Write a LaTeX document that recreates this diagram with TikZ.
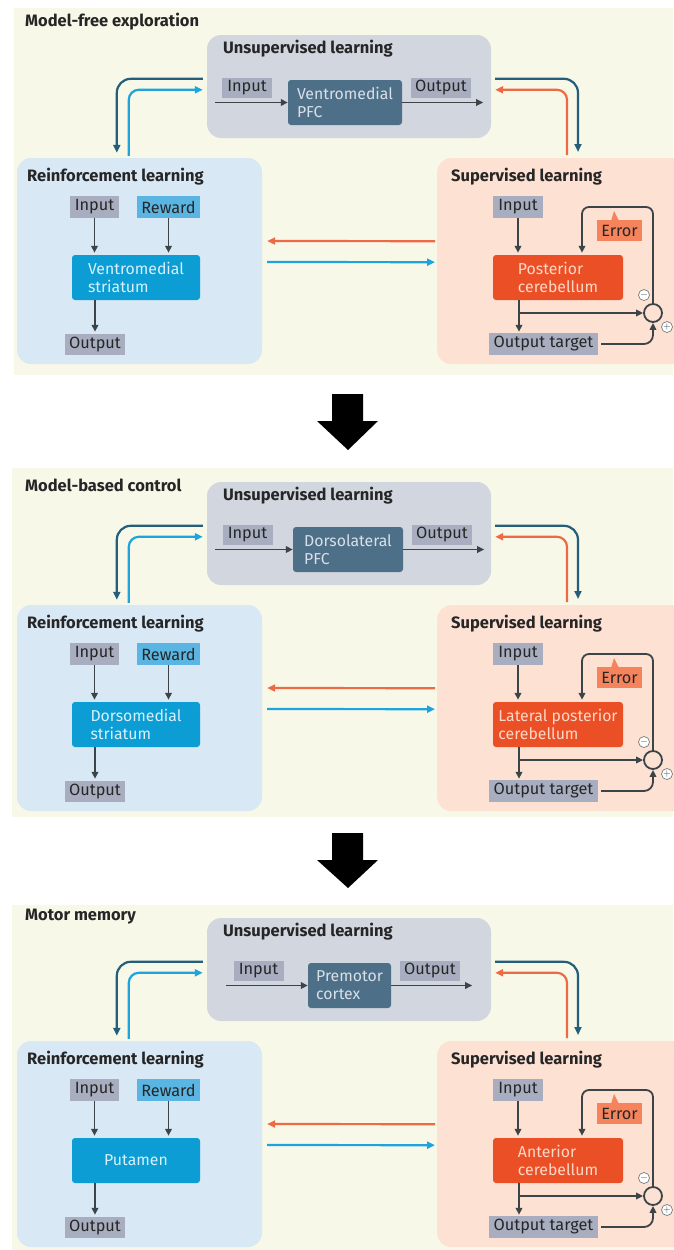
\documentclass[tikz,border=0pt]{standalone}
\usepackage{fontspec}
\setmainfont{Fira Sans}
\usetikzlibrary{arrows.meta,calc}

\definecolor{panelbg}{HTML}{F7F8E8}
\definecolor{unsupbg}{HTML}{D1D6DF}
\definecolor{reinfbg}{HTML}{D9E8F5}
\definecolor{superbg}{HTML}{FDE1D3}
\definecolor{graylbl}{HTML}{A8AEBF}
\definecolor{rewardlbl}{HTML}{5BB5E2}
\definecolor{pfcfill}{HTML}{4E6F88}
\definecolor{strfill}{HTML}{0B9DD4}
\definecolor{cbfill}{HTML}{EB4F26}
\definecolor{errfill}{HTML}{F5845C}
\definecolor{darkteal}{HTML}{245E7B}
\definecolor{lightblue}{HTML}{1DA4DC}
\definecolor{orangeln}{HTML}{EE6A45}
\definecolor{arrowgray}{HTML}{3D4447}
\definecolor{titletext}{HTML}{262626}
\definecolor{pfctext}{HTML}{D8E0E8}
\definecolor{strtext}{HTML}{D8F0FA}
\definecolor{cbtext}{HTML}{FDD8C6}

\tikzset{
  areabox/.style={rounded corners=14pt, draw=none, inner sep=0pt},
  areatitle/.style={inner sep=0pt, anchor=west, text=titletext,
    font=\bfseries\fontsize{16.5}{19}\selectfont},
  tagbox/.style={fill=graylbl, inner sep=0pt, text=titletext,
    font=\fontsize{16.3}{18}\selectfont},
  corebox/.style={inner sep=0pt, align=left, rounded corners=3pt,
    font=\fontsize{15.8}{18}\selectfont},
  flowarrow/.style={draw=arrowgray, line width=1.8pt,
    -{Triangle[length=7pt,width=6.5pt]}},
  plainline/.style={draw=arrowgray, line width=1.8pt},
  feedback/.style={line width=2.2pt, rounded corners=14pt,
    -{Triangle[length=8pt,width=7pt]}},
  midarrow/.style={line width=2.2pt, -{Triangle[length=8pt,width=7pt]}},
  sumnode/.style={circle, draw=arrowgray, line width=1.8pt, fill=superbg,
    minimum size=18pt, inner sep=0pt},
  signnode/.style={circle, draw=arrowgray!70, line width=0.7pt, fill=white,
    minimum size=11pt, inner sep=0pt, text=arrowgray,
    font=\bfseries\fontsize{10}{10}\selectfont},
}

% One learning panel: unsupervised, reinforcement and supervised blocks.
% #1 name prefix, #2 vertical offset, #3 cortex text, #4 striatum text,
% #5 cerebellum text, #6 input tag centre x, #7 cortex centre x,
% #8 cortex width, #9 output tag centre x
\newcommand{\learnpanel}[9]{%
\begin{scope}[shift={(0,#2)}]
  % unsupervised learning
  \node[areabox, fill=unsupbg, minimum width=284pt, minimum height=103pt] (#1U) at (349,86.5) {};
  \node[areatitle] (#1Ut) at (223,49) {Unsupervised learning};
  \node[tagbox, minimum width=50pt, minimum height=20pt] (#1Ui) at (#6,88) {Input};
  \node[corebox, fill=pfcfill, text=pfctext, minimum width=#8pt, minimum height=45pt] (#1Uc) at (#7,102.5) {#3};
  \node[tagbox, minimum width=60pt, minimum height=20pt] (#1Uo) at (#9,88) {Output};
  \coordinate (#1Us) at ($(#1Ui.west |- #1Uc.west)+(-7,0)$);
  \coordinate (#1Ue) at ($(#1Uo.east |- #1Uc.east)+(12,0)$);
  \draw[flowarrow] (#1Us) -- (#1Uc.west);
  \draw[flowarrow] (#1Uc.east) -- (#1Ue);

  % reinforcement learning
  \node[areabox, fill=reinfbg, minimum width=245pt, minimum height=206pt] (#1R) at (139.5,261) {};
  \node[areatitle] (#1Rt) at (27,177) {Reinforcement learning};
  \node[tagbox, minimum width=49pt, minimum height=22pt] (#1Ri) at (94.5,207) {Input};
  \node[tagbox, fill=rewardlbl, minimum width=63pt, minimum height=22pt] (#1Rw) at (168.5,207) {Reward};
  \node[corebox, fill=strfill, text=strtext, minimum width=128pt, minimum height=45pt] (#1Rs) at (136,277.5) {#4};
  \node[tagbox, minimum width=60pt, minimum height=21pt] (#1Ro) at (95,344.5) {Output};
  \draw[flowarrow, shorten >=2pt] (#1Ri.south) -- (#1Ri.south |- #1Rs.north);
  \draw[flowarrow, shorten >=2pt] (#1Rw.south) -- (#1Rw.south |- #1Rs.north);
  \draw[flowarrow, shorten >=2pt] (#1Rs.south -| #1Ro.north) -- (#1Ro.north);

  % supervised learning
  \node[areabox, fill=superbg, minimum width=260pt, minimum height=206pt, anchor=north west] (#1S) at (437,158) {};
  \node[areatitle] (#1St) at (451,177) {Supervised learning};
  \node[tagbox, minimum width=50pt, minimum height=22pt] (#1Si) at (518,207) {Input};
  \node[corebox, fill=cbfill, text=cbtext, minimum width=130pt, minimum height=45pt] (#1Sc) at (558,277.5) {#5};
  \fill[errfill] (611,221) -- (619,221) -- (614,211) -- cycle;
  \node[tagbox, fill=errfill, minimum width=45pt, minimum height=21pt] (#1Se) at (619.5,230.5) {Error};
  \node[sumnode] (#1Ss) at (653,313) {};
  \node[signnode] (#1Sm) at (644,295) {$-$};
  \node[signnode] (#1Sp) at (667,327) {$+$};
  \node[tagbox, minimum width=109pt, minimum height=22pt] (#1So) at (543.5,344) {Output target};
  \coordinate (#1Sj) at (519,313);
  \coordinate (#1Sk) at (582,207);
  \draw[flowarrow, shorten >=2pt] (#1Si.south) -- (#1Si.south |- #1Sc.north);
  \draw[plainline] (#1Sc.south -| #1Sj) -- (#1Sj);
  \draw[flowarrow, shorten >=1pt] (#1Sj) -- (#1So.north -| #1Sj);
  \draw[flowarrow] (#1Sj) -- (#1Ss.west);
  \draw[flowarrow, rounded corners=7pt, shorten >=2pt] (#1Ss.north) |- (#1Sk) -- (#1Sk |- #1Sc.north);
  \draw[flowarrow, rounded corners=9pt, shorten <=3pt] (#1So.east) -| (#1Ss.south);

  % exchanges between the three learning systems
  \draw[feedback, darkteal] ($(#1U.north west)+(-4,44)$) -| ($(#1R.north west)+(100,-5)$);
  \draw[feedback, lightblue, rounded corners=10pt] ($(#1R.north west)+(112,-2)$) |- ($(#1U.north west)+(-4,55)$);
  \draw[feedback, darkteal] ($(#1U.north east)+(4,44)$) -| ($(#1S.north west)+(141,-6)$);
  \draw[feedback, orangeln, rounded corners=10pt] ($(#1S.north west)+(130,-3)$) |- ($(#1U.north east)+(4,55)$);
  \draw[midarrow, orangeln] ($(#1S.west)+(-2,-20)$) -- ($(#1R.east)+(5,-20)$);
  \draw[midarrow, lightblue] ($(#1R.east)+(5,1)$) -- ($(#1S.west)+(-2,1)$);
\end{scope}}

\begin{document}
\begin{tikzpicture}[x=1pt, y=-1pt]
  \useasboundingbox (0,0) rectangle (673,1250);
  \fill[white] (0,0) rectangle (673,1250);

  % panel backgrounds
  \fill[panelbg] (14,8) rectangle (673,375);
  \fill[panelbg] (12,468) rectangle (673,817);
  \fill[panelbg] (12,905) rectangle (673,1250);

  % transitions between stages
  \fill[black] (332,394) -- (363,394) -- (363,421) -- (378,421) -- (348,450) -- (317,421) -- (332,421) -- cycle;
  \fill[black] (332,833) -- (363,833) -- (363,860) -- (378,860) -- (348,888) -- (317,860) -- (332,860) -- cycle;

  \node[areatitle] (t1) at (25,22) {Model-free exploration};
  \node[areatitle] (t2) at (25,485) {Model-based control};
  \node[areatitle] (t3) at (25,917) {Motor memory};

  \learnpanel{a}{0}{Ventromedial\\PFC}{Ventromedial\\striatum}{Posterior\\cerebellum}{247}{345}{114}{441}
  \learnpanel{b}{447}{Dorsolateral\\PFC}{Dorsomedial\\striatum}{Lateral posterior\\cerebellum}{247.5}{348}{110}{442}
  \learnpanel{c}{883}{Premotor\\cortex}{Putamen}{Anterior\\cerebellum}{258.5}{349.5}{83}{430}
\end{tikzpicture}
\end{document}
